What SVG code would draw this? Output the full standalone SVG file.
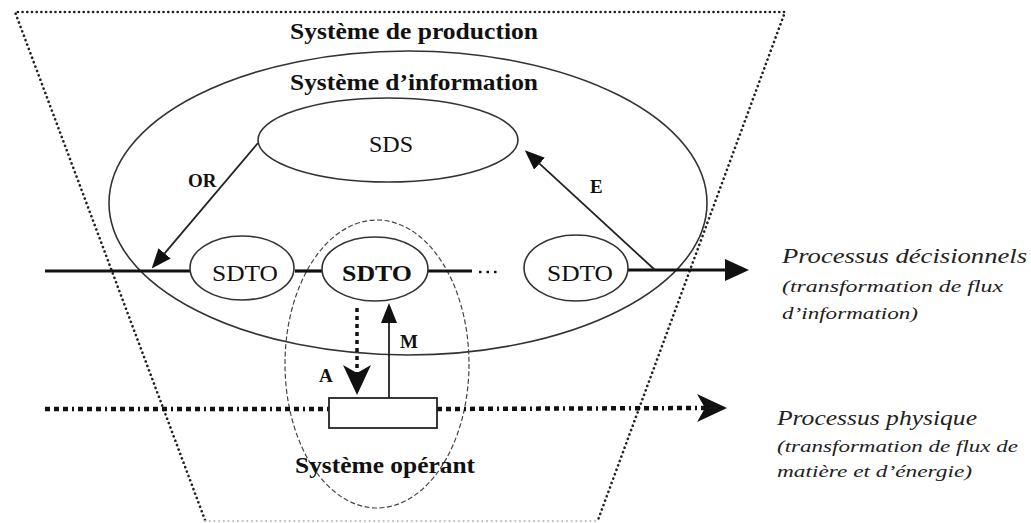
<svg xmlns="http://www.w3.org/2000/svg" width="1031" height="523" viewBox="0 0 1031 523">
<style>
.bg{fill:#ffffff}
.trap{fill:none;stroke:#222;stroke-width:2.6;stroke-dasharray:0.1 4.6;stroke-linecap:round}
.trapb{fill:none;stroke:#bbb;stroke-width:2;stroke-dasharray:0.1 4.6;stroke-linecap:round}
.ell{fill:none;stroke:#333;stroke-width:1.6}
.node{fill:#fff;stroke:#333;stroke-width:1.6}
.dash{fill:none;stroke:#444;stroke-width:1.2;stroke-dasharray:5 2.5}
.flow{fill:none;stroke:#111;stroke-width:3.2}
.thin{fill:none;stroke:#222;stroke-width:1.8}
.phys{fill:none;stroke:#111;stroke-width:4.5;stroke-dasharray:5 4 5 4 5 4 2 4}
.adot{fill:none;stroke:#111;stroke-width:3.5;stroke-dasharray:4 4}
.ell3{fill:none;stroke:#111;stroke-width:2.5;stroke-dasharray:2.5 5}
.box{fill:#fff;stroke:#222;stroke-width:1.8}
text{font-family:"Liberation Serif","Times New Roman",serif;fill:#111}
.t{font-size:23px;font-weight:bold}
.n{font-size:24px;text-anchor:middle}
.nb{font-size:24px;font-weight:bold;text-anchor:middle}
.l{font-size:19px;font-weight:bold}
.it{font-style:italic;fill:#222}
.p1{font-size:22px}
.p2{font-size:17px}
</style>
<defs>
<marker id="tri" viewBox="0 0 20 16" refX="0" refY="8" markerWidth="20" markerHeight="16" markerUnits="userSpaceOnUse" orient="auto"><path d="M0,0 L20,8 L0,16 Z" fill="#111"/></marker>
<marker id="big" viewBox="0 0 24 22" refX="0" refY="11" markerWidth="24" markerHeight="22" markerUnits="userSpaceOnUse" orient="auto"><path d="M0,0 L24,11 L0,22 Z" fill="#111"/></marker>
<marker id="notch" viewBox="0 0 30 28" refX="8" refY="14" markerWidth="30" markerHeight="28" markerUnits="userSpaceOnUse" orient="auto"><path d="M0,0 L30,14 L0,28 L8,14 Z" fill="#111"/></marker>
</defs>
<rect class="bg" x="0" y="0" width="1031" height="523"/>

<g id="production">
<path class="trap" d="M205,520 L15,12 L785,12 L598,520"/>
<path class="trapb" d="M205,521 L598,521"/>
<text class="t" x="290" y="39" textLength="248" lengthAdjust="spacingAndGlyphs">Système de production</text>
</g>

<g id="information">
<ellipse class="ell" cx="408" cy="203" rx="299" ry="152"/>
<text class="t" x="290" y="90" textLength="248" lengthAdjust="spacingAndGlyphs">Système d’information</text>
</g>

<g id="operant">
<ellipse class="dash" cx="377" cy="364" rx="92" ry="144"/>
<text class="t" x="295" y="473" textLength="180" lengthAdjust="spacingAndGlyphs">Système opérant</text>
</g>

<g id="connectors">
<line class="flow" x1="45" y1="271" x2="190" y2="271"/>
<line class="flow" x1="295" y1="271" x2="323" y2="271"/>
<line class="flow" x1="428" y1="271" x2="472" y2="271"/>
<line class="ell3" x1="479" y1="272" x2="497" y2="272"/>
<line class="flow" x1="628" y1="270" x2="725" y2="270" marker-end="url(#big)"/>
<line class="thin" x1="258" y1="143" x2="164.6" y2="253.3" marker-end="url(#tri)"/>
<line class="thin" x1="655" y1="270" x2="539.5" y2="163.7" marker-end="url(#tri)"/>
<line class="thin" x1="389" y1="398" x2="389" y2="323" marker-end="url(#tri)"/>
<line class="adot" x1="357" y1="308" x2="357" y2="373" marker-end="url(#notch)"/>
<line class="phys" x1="45" y1="409" x2="329" y2="409"/>
<line class="phys" x1="437" y1="409" x2="705" y2="408" marker-end="url(#notch)"/>
<text class="l" x="188" y="187">OR</text>
<text class="l" x="590" y="193">E</text>
<text class="l" x="400" y="348">M</text>
<text class="l" x="319" y="382">A</text>
</g>

<g id="sds">
<ellipse class="node" cx="388" cy="140" rx="130" ry="42"/>
<text class="n" x="391" y="152">SDS</text>
</g>

<g id="sdto1">
<ellipse class="node" cx="242" cy="268" rx="52" ry="32"/>
<text class="n" x="245" y="281" textLength="66" lengthAdjust="spacingAndGlyphs">SDTO</text>
</g>

<g id="sdto2">
<ellipse class="node" cx="375" cy="269" rx="53" ry="32"/>
<text class="nb" x="377" y="281" textLength="70" lengthAdjust="spacingAndGlyphs">SDTO</text>
</g>

<g id="sdto3">
<ellipse class="node" cx="576" cy="268" rx="52" ry="33"/>
<text class="n" x="580" y="281" textLength="66" lengthAdjust="spacingAndGlyphs">SDTO</text>
</g>

<g id="transform">
<rect class="box" x="329" y="398" width="108" height="30"/>
</g>

<g id="decision-label">
<text class="it p1" x="782" y="263" textLength="245" lengthAdjust="spacingAndGlyphs">Processus décisionnels</text>
<text class="it p2" x="782" y="292" textLength="221" lengthAdjust="spacingAndGlyphs">(transformation de flux</text>
<text class="it p2" x="782" y="319" textLength="136" lengthAdjust="spacingAndGlyphs">d’information)</text>
</g>

<g id="physical-label">
<text class="it p1" x="777" y="425" textLength="200" lengthAdjust="spacingAndGlyphs">Processus physique</text>
<text class="it p2" x="777" y="452" textLength="241" lengthAdjust="spacingAndGlyphs">(transformation de flux de</text>
<text class="it p2" x="777" y="477" textLength="195" lengthAdjust="spacingAndGlyphs">matière et d’énergie)</text>
</g>
</svg>
